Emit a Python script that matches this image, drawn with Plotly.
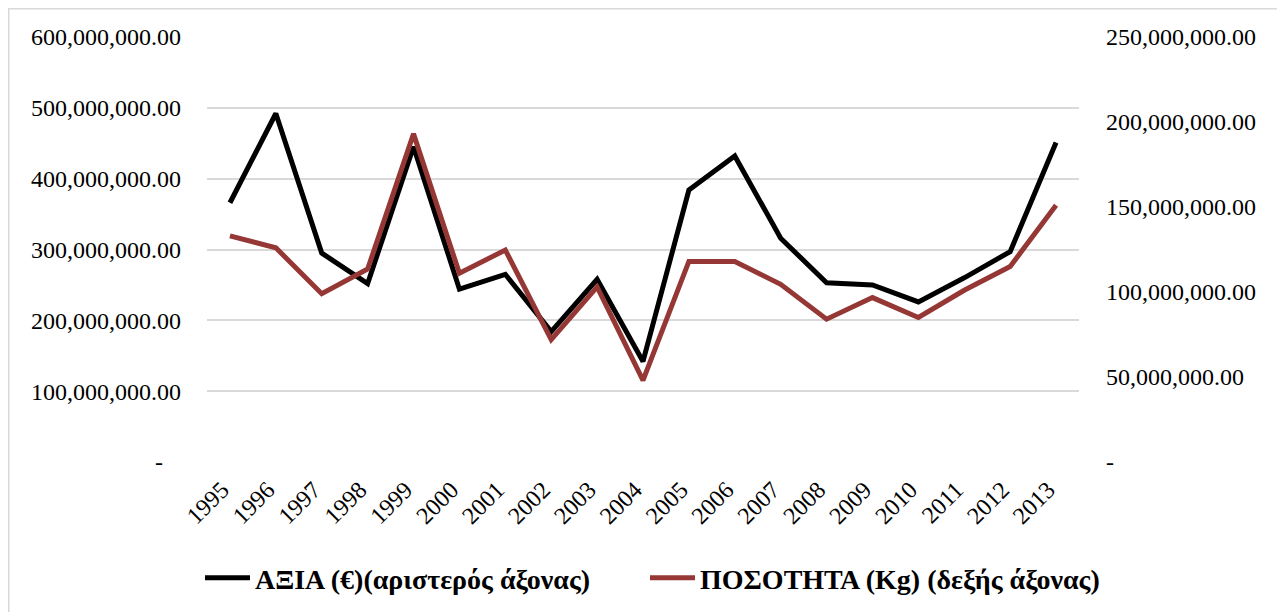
import plotly.graph_objects as go

years = [str(y) for y in range(1995, 2014)]
value_eur = [366e6, 492e6, 295e6, 252e6, 445e6, 244e6, 265e6, 184e6, 258e6, 142e6,
             384e6, 432e6, 316e6, 253e6, 250e6, 226e6, 260e6, 297e6, 451e6]
qty_kg = [133e6, 126e6, 99e6, 113.5e6, 193e6, 111e6, 124.7e6, 72e6, 103e6, 48e6,
          118e6, 118e6, 104.5e6, 84e6, 96.7e6, 85e6, 101e6, 115e6, 151e6]

left_tickvals = [0, 100e6, 200e6, 300e6, 400e6, 500e6, 600e6]
left_ticktext = ["-\u00a0\u00a0\u00a0", "100,000,000.00", "200,000,000.00", "300,000,000.00",
                 "400,000,000.00", "500,000,000.00", "600,000,000.00"]
right_tickvals = [0, 50e6, 100e6, 150e6, 200e6, 250e6]
right_ticktext = ["-", "50,000,000.00", "100,000,000.00", "150,000,000.00",
                  "200,000,000.00", "250,000,000.00"]

name_value = "ΑΞΙΑ (€)(αριστερός άξονας)"
name_qty = "ΠΟΣΟΤΗΤΑ (Kg) (δεξής άξονας)"

FONT = "Liberation Serif"

# page body has an 8px margin; figure coordinates below are relative to the figure
L, T, PW, PH = 199, 29, 872, 425
W, H = 1285, 612

fig = go.Figure()
fig.add_trace(go.Scatter(x=years, y=value_eur, name=name_value, mode="lines",
                         line=dict(color="#000000", width=5), legend="legend"))
fig.add_trace(go.Scatter(x=years, y=qty_kg, name=name_qty, mode="lines", yaxis="y2",
                         line=dict(color="#953735", width=5), legend="legend2"))

legend_common = dict(orientation="h", xanchor="left", xref="container",
                     yref="container", y=(H - 570) / H, yanchor="middle",
                     font=dict(family=FONT, size=28, color="#000000", weight="bold"),
                     itemwidth=45, bgcolor="rgba(0,0,0,0)")

fig.update_layout(
    width=W, height=H,
    margin=dict(l=L, r=W - L - PW, t=T, b=H - T - PH, autoexpand=False),
    paper_bgcolor="white", plot_bgcolor="white",
    font=dict(family=FONT, size=24, color="#000000"),
    showlegend=True,
    legend=dict(x=192 / W, **legend_common),
    legend2=dict(x=637 / W, **legend_common),
    xaxis=dict(type="category", range=[-0.5, 18.5], tickangle=-45, showgrid=False,
               zeroline=False, showline=False, ticks="", tickfont=dict(size=24),
               automargin=False, ticklabelstandoff=8, ticklabelshift=-8),
    yaxis=dict(range=[0, 600e6], tickvals=left_tickvals, ticktext=left_ticktext,
               showgrid=True, gridcolor="#d9d9d9", gridwidth=1.5, zeroline=False,
               showline=False, ticks="", ticklabelstandoff=25, automargin=False),
    yaxis2=dict(range=[0, 250e6], tickvals=right_tickvals, ticktext=right_ticktext,
                overlaying="y", side="right", showgrid=False, zeroline=False,
                showline=False, ticks="", ticklabelstandoff=26, automargin=False),
    shapes=[dict(type="rect", xref="paper", yref="paper",
                 x0=(0.75 - L) / PW, x1=(1271 - L) / PW,
                 y0=(T + PH - 620) / PH, y1=(T + PH - 0.75) / PH,
                 line=dict(color="#d9d9d9", width=1.5), layer="below")],
)

fig.write_html("out.html")
